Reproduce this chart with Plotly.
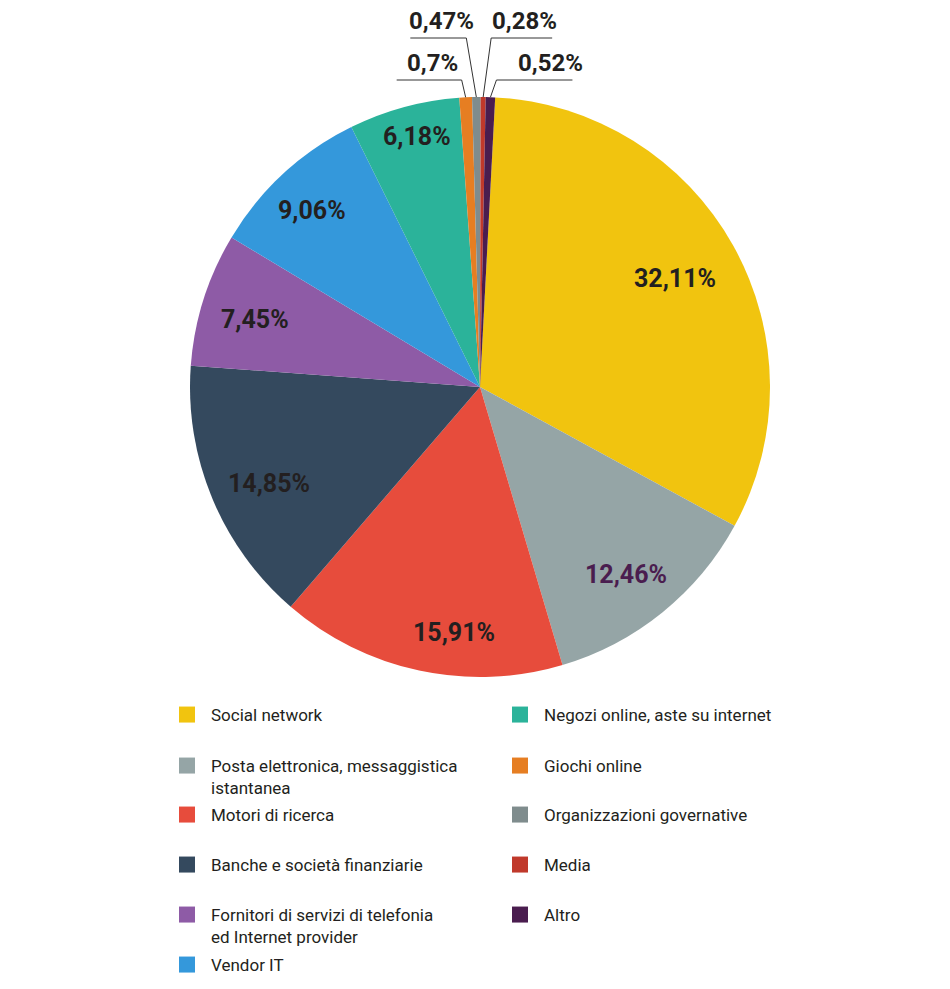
import math
import plotly.graph_objects as go

# data
categories = [
    "Social network",
    "Posta elettronica, messaggistica<br>istantanea",
    "Motori di ricerca",
    "Banche e società finanziarie",
    "Fornitori di servizi di telefonia<br>ed Internet provider",
    "Vendor IT",
    "Negozi online, aste su internet",
    "Giochi online",
    "Organizzazioni governative",
    "Media",
    "Altro",
]
shares = [32.11, 12.46, 15.91, 14.85, 7.45, 9.06, 6.18, 0.7, 0.47, 0.28, 0.52]
colors = ["#F1C40F", "#95A5A6", "#E74C3C", "#34495E", "#8E5BA6", "#3498DB",
          "#2BB39A", "#E67E22", "#7F8C8D", "#C0392B", "#4A1D4F"]
label_colors = ["#231F20", "#4A1D4F", "#231F20", "#231F20", "#231F20", "#231F20",
                "#231F20", "#231F20", "#231F20", "#231F20", "#231F20"]

# the page body has an 8px margin, so the figure is drawn 8px smaller
# and every position below is given in window pixels
OFF = 8
FW, FH = 950 - OFF, 989 - OFF
CX, CY, R = 480, 387, 290
ROTATION = 3
FONT = "Roboto, Liberation Sans, sans-serif"
TXT = "#231F20"


def fmt(v):
    return f"{v:g}".replace(".", ",") + "%"


def px(x, y):
    return (x - OFF) / FW, 1 - (y - OFF) / FH


fig = go.Figure()
x_lo, y_hi = px(CX - R, CY - R)
x_hi, y_lo = px(CX + R, CY + R)
fig.add_trace(go.Pie(
    labels=categories,
    values=shares,
    textinfo="none",
    marker=dict(colors=colors, line=dict(width=0)),
    sort=False,
    direction="clockwise",
    rotation=ROTATION,
    showlegend=False,
    hoverinfo="label+percent",
    domain=dict(x=[x_lo, x_hi], y=[y_lo, y_hi]),
))

# label placement inside the big slices: (fraction of radius, angle nudge in degrees)
inside_pos = {0: (0.77, 0), 1: (0.82, 1), 2: (0.85, -6), 3: (0.80, -2),
              4: (0.81, -1), 5: (0.84, -1), 6: (0.89, 1)}
# leader lines for the thin slices: (height of elbow, elbow dx, line length, side, text shift)
callouts = {
    7: (80, -4, 65, -1, 3),
    8: (38, -10, 56, -1, 3),
    9: (38, 8, 61, 1, 3),
    10: (80, 6, 76, 1, 16),
}
total = sum(shares)
start = 0.0
shapes, annotations = [], []
for i, v in enumerate(shares):
    mid = ROTATION + (start + v / 2) / total * 360
    start += v
    if i in inside_pos:
        frac, nudge = inside_pos[i]
        a = math.radians(mid + nudge)
        tx, ty = px(CX + frac * R * math.sin(a), CY - frac * R * math.cos(a))
        annotations.append(dict(
            x=tx, y=ty, xref="paper", yref="paper", text=fmt(v), showarrow=False,
            xanchor="center", yanchor="middle",
            font=dict(family=FONT, size=25, color=label_colors[i], weight="bold"),
        ))
        continue
    level, dx, length, side, shift = callouts[i]
    a = math.radians(mid)
    x0, y0 = CX + R * math.sin(a), CY - R * math.cos(a)
    x1 = x0 + dx
    x2 = x1 + side * length
    p0, p1, p2 = px(x0, y0), px(x1, level), px(x2, level)
    shapes.append(dict(
        type="path", xref="paper", yref="paper",
        path=f"M {p0[0]} {p0[1]} L {p1[0]} {p1[1]} L {p2[0]} {p2[1]}",
        line=dict(color="#333333", width=1),
    ))
    tx, ty = px((x1 + x2) / 2 + shift, level - 1)
    annotations.append(dict(
        x=tx, y=ty, xref="paper", yref="paper", text=fmt(v), showarrow=False,
        xanchor="center", yanchor="bottom",
        font=dict(family=FONT, size=24, color=TXT, weight="bold"),
    ))

# two-column legend, one small legend per entry
rows_left = [715, 766, 815, 865, 915, 965]
rows_right = [715, 766, 815, 865, 915]
slots = [(179, y) for y in rows_left] + [(512, y) for y in rows_right]
legends = {}
for i, (name, col) in enumerate(zip(categories, colors)):
    key = "legend" if i == 0 else f"legend{i + 1}"
    fig.add_trace(go.Scatter(
        x=[None], y=[None], mode="markers", name=name,
        marker=dict(symbol="square", size=16, color=col, line=dict(width=0)),
        legend=key, hoverinfo="skip",
    ))
    lx, ly = slots[i]
    gx, gy = px(lx - 16, ly - 18)
    legends[key] = dict(
        x=gx, y=gy, xanchor="left", yanchor="top", valign="top",
        itemwidth=38, bgcolor="rgba(0,0,0,0)", borderwidth=0,
        font=dict(family=FONT, size=17, color=TXT),
    )

fig.update_layout(
    width=FW, height=FH,
    margin=dict(l=0, r=0, t=0, b=0, autoexpand=False),
    paper_bgcolor="white", plot_bgcolor="white",
    xaxis=dict(visible=False), yaxis=dict(visible=False),
    shapes=shapes, annotations=annotations,
    **legends,
)

fig.write_html("out.html")
